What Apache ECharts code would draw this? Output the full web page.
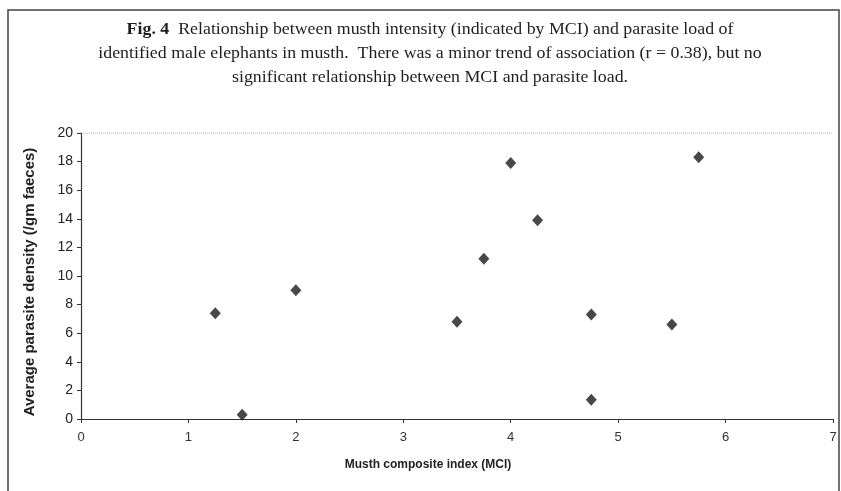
<!DOCTYPE html>
<html>
<head>
<meta charset="utf-8">
<script src="https://cdn.jsdelivr.net/npm/echarts@6/dist/echarts.min.js"></script>
<style>
  html, body { margin: 0; padding: 0; background: #fff; }
  #chart { width: 841px; height: 491px; }
</style>
</head>
<body>
<div id="chart"></div>
<script>
// values
const mciValues = [1.25, 1.5, 2, 3.5, 3.75, 4, 4.25, 4.75, 4.75, 5.5, 5.75];
const parasiteDensity = [7.4, 0.3, 9.0, 6.8, 11.2, 17.9, 13.9, 7.3, 1.35, 6.6, 18.3];
const xTicks = [0, 1, 2, 3, 4, 5, 6, 7];
const yTicks = [0, 2, 4, 6, 8, 10, 12, 14, 16, 18, 20];
const captionLines = [
    '{b|Fig. 4}  Relationship between musth intensity (indicated by MCI) and parasite load of',
    'identified male elephants in musth.  There was a minor trend of association (r = 0.38), but no',
    'significant relationship between MCI and parasite load.'
];

const points = mciValues.map((x, i) => [x, parasiteDensity[i]]);

const chart = echarts.init(document.getElementById('chart'));

const option = {
    backgroundColor: '#fff',
    animation: false,
    graphic: [
        {
            type: 'rect',
            shape: { x: 8, y: 10, width: 831, height: 490 },
            style: { fill: 'none', stroke: '#444', lineWidth: 1.5 },
            silent: true
        },
        {
            // caption, a bit stretched like the scanned print
            type: 'text',
            x: 430,
            y: 18,
            scaleX: 1.05,
            silent: true,
            style: {
                text: captionLines.join('\n'),
                align: 'center',
                verticalAlign: 'top',
                fontFamily: 'Liberation Serif',
                fontSize: 17,
                lineHeight: 24,
                fill: '#1e1e1e',
                rich: {
                    b: { fontFamily: 'Liberation Serif', fontSize: 17, fontWeight: 'bold', fill: '#1e1e1e', lineHeight: 24 }
                }
            }
        }
    ],
    grid: { left: 81, right: 8, top: 133, bottom: 72 },
    xAxis: {
        type: 'value',
        min: 0,
        max: 7,
        interval: 1,
        name: 'Musth composite index (MCI)',
        nameLocation: 'middle',
        nameGap: 40,
        nameTextStyle: { fontFamily: 'Liberation Sans', fontWeight: 'bold', fontSize: 12, color: '#222', padding: [0, 58, 0, 0] },
        axisLine: { lineStyle: { color: '#333', width: 1.2 } },
        axisTick: { show: true, inside: false, length: 4, lineStyle: { color: '#333' } },
        axisLabel: {
            fontFamily: 'Liberation Sans', fontSize: 13, color: '#333', margin: 12,
            formatter: v => xTicks.includes(v) ? String(v) : ''
        },
        splitLine: { show: false }
    },
    yAxis: {
        type: 'value',
        min: 0,
        max: 20,
        interval: 2,
        name: 'Average parasite density (/gm faeces)',
        nameLocation: 'middle',
        nameGap: 44,
        nameTextStyle: { fontFamily: 'Liberation Sans', fontWeight: 'bold', fontSize: 15, color: '#222', padding: [0, 12, 0, 0] },
        axisLine: { show: true, lineStyle: { color: '#333', width: 1.2 } },
        axisTick: { show: true, inside: false, length: 4, lineStyle: { color: '#333' } },
        axisLabel: {
            fontFamily: 'Liberation Sans', fontSize: 14, color: '#222', margin: 8,
            formatter: v => yTicks.includes(v) ? String(v) : ''
        },
        splitLine: { show: false }
    },
    series: [
        {
            type: 'scatter',
            data: points,
            symbol: 'diamond',
            symbolSize: [11, 12],
            itemStyle: { color: '#1a1a1a' }
        },
        {
            // dotted top border of the plot area
            type: 'line',
            data: [[0, 20], [7, 20]],
            symbol: 'none',
            silent: true,
            lineStyle: { color: '#999', width: 1, type: 'dotted' }
        }
    ]
};

chart.setOption(option);
</script>
</body>
</html>
